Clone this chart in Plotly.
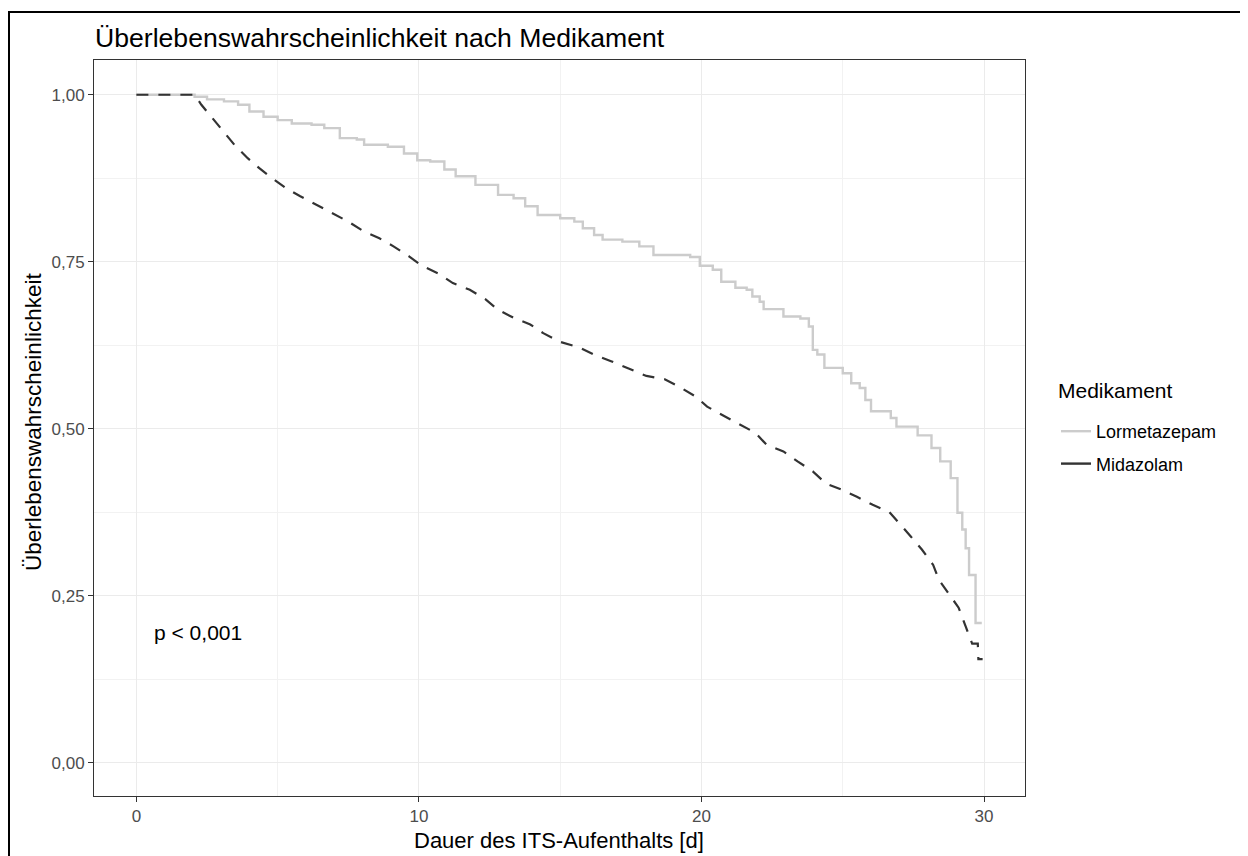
import plotly.graph_objects as go

# Kaplan-Meier curves (time in days, survival probability)
lor_t = [0, 2.06, 2.5, 3.1, 3.6, 4.0, 4.5, 5.0, 5.5, 6.2, 6.65, 7.2, 7.8, 8.06, 8.9, 9.47,
         9.94, 10.4, 10.9, 11.3, 12.0, 12.8, 13.35, 13.76, 14.2, 15.0, 15.5, 15.8, 16.2, 16.5,
         17.2, 17.8, 18.3, 19.6, 19.94, 20.4, 20.7, 21.2, 21.6, 21.8, 22.06, 22.2, 22.9, 23.5,
         23.8, 23.94, 24.1, 24.35, 25.0, 25.3, 25.6, 25.8, 26.0, 26.7, 26.9, 27.65, 28.14,
         28.45, 28.82, 29.06, 29.23, 29.35, 29.47, 29.7, 29.92]
lor_s = [1.0, 0.997, 0.993, 0.99, 0.985, 0.975, 0.967, 0.962, 0.957, 0.955, 0.95, 0.935, 0.933,
         0.925, 0.922, 0.912, 0.902, 0.900, 0.888, 0.878, 0.865, 0.850, 0.845, 0.833, 0.820,
         0.815, 0.810, 0.800, 0.790, 0.783, 0.780, 0.773, 0.760, 0.757, 0.744, 0.738, 0.720,
         0.711, 0.708, 0.698, 0.690, 0.679, 0.668, 0.665, 0.653, 0.618, 0.611, 0.591, 0.583,
         0.568, 0.561, 0.543, 0.526, 0.516, 0.503, 0.490, 0.471, 0.451, 0.426, 0.374, 0.349,
         0.321, 0.281, 0.209, 0.209]

mid_t = [0, 2.06, 2.3, 2.76, 3.1, 3.47, 3.94, 4.35, 4.8, 5.3, 5.8, 6.4, 6.94, 7.5, 8.06, 8.6,
         9.1, 9.65, 10.1, 10.7, 11.2, 11.8, 12.35, 12.8, 13.35, 13.94, 14.4, 15.0, 15.65, 16.2,
         16.8, 17.4, 18.05, 18.7, 19.2, 19.8, 20.2, 20.8, 21.35, 21.9, 22.3, 22.9, 23.4, 23.94,
         24.4, 24.94, 25.5, 26.06, 26.65, 27.06, 27.4, 27.8, 28.2, 28.4, 28.8, 29.1, 29.35,
         29.58, 29.78, 29.8, 29.95]
mid_s = [1.0, 1.0, 0.985, 0.962, 0.945, 0.925, 0.905, 0.890, 0.875, 0.860, 0.848, 0.835, 0.823,
         0.810, 0.795, 0.785, 0.773, 0.758, 0.744, 0.732, 0.718, 0.708, 0.694, 0.678, 0.666,
         0.656, 0.643, 0.630, 0.622, 0.611, 0.601, 0.591, 0.579, 0.574, 0.563, 0.548, 0.533,
         0.519, 0.507, 0.494, 0.476, 0.466, 0.451, 0.436, 0.418, 0.409, 0.398, 0.386, 0.375,
         0.356, 0.339, 0.319, 0.296, 0.274, 0.251, 0.232, 0.204, 0.178, 0.178, 0.155, 0.155]

groups = ["Lormetazepam", "Midazolam"]
colors = ["#cccccc", "#333333"]
x_ticks = [0, 10, 20, 30]
y_ticks = [0, 0.25, 0.5, 0.75, 1.0]

FONT = "Liberation Sans, Arial, sans-serif"

# figure geometry (page body has an 8px margin)
W, H = 1240, 848
PL, PR, PT, PB = 86, 1017, 52, 788   # plot area edges in figure pixels
pw, ph = PR - PL, PB - PT

fig = go.Figure()
fig.add_trace(go.Scatter(x=lor_t, y=lor_s, mode="lines", line_shape="hv",
                         line=dict(color=colors[0], width=2.4), showlegend=False,
                         hoverinfo="skip"))
fig.add_trace(go.Scatter(x=mid_t, y=mid_s, mode="lines", line_shape="linear",
                         line=dict(color=colors[1], width=2.2, dash="12px,10px"),
                         showlegend=False, hoverinfo="skip"))
# legend keys (solid, as in reference)
for g, c in zip(groups, colors):
    fig.add_trace(go.Scatter(x=[None], y=[None], mode="lines", name=g, legendgroup=g,
                             line=dict(color=c, width=2.4)))

fig.add_annotation(x=0.56, y=0.195, xref="x", yref="y", text="p < 0,001",
                   showarrow=False, xanchor="left", yanchor="middle",
                   font=dict(family=FONT, size=21, color="black"))

# legend title
fig.add_annotation(x=(1048 - PL) / pw, y=(PB - 382) / ph, xref="paper", yref="paper",
                   text="Medikament", showarrow=False, xanchor="left", yanchor="middle",
                   font=dict(family=FONT, size=21, color="black"))

# axis titles
fig.add_annotation(x=0.499, y=(PB - 832) / ph, xref="paper", yref="paper",
                   text="Dauer des ITS-Aufenthalts [d]", showarrow=False,
                   xanchor="center", yanchor="middle",
                   font=dict(family=FONT, size=22, color="black"))
fig.add_annotation(x=(25 - PL) / pw, y=(PB - 414) / ph, xref="paper", yref="paper",
                   text="Überlebenswahrscheinlichkeit", showarrow=False, textangle=-90,
                   xanchor="center", yanchor="middle",
                   font=dict(family=FONT, size=22.5, color="black"))

# outer frame of the screenshot
fig.add_shape(type="rect", xref="paper", yref="paper",
              x0=(1 - PL) / pw, x1=(W + 20 - PL) / pw,
              y0=(PB - H - 20) / ph, y1=(PB - 4) / ph,
              line=dict(color="black", width=2), fillcolor="rgba(0,0,0,0)")

axis_common = dict(showline=True, linecolor="#333333", linewidth=1, mirror=True,
                   ticks="outside", ticklen=5, tickcolor="#333333", tickwidth=1,
                   showgrid=True, gridcolor="#ebebeb", gridwidth=1.2,
                   zeroline=False, automargin=False,
                   tickfont=dict(family=FONT, size=17, color="#4d4d4d"))

fig.update_xaxes(range=[-1.5, 31.45], tickvals=x_ticks,
                 minor=dict(tickvals=[5, 15, 25], showgrid=True, gridcolor="#f2f2f2",
                            gridwidth=1, ticks=""),
                 **axis_common)
fig.update_yaxes(range=[-0.05, 1.052], tickvals=y_ticks, tickformat=".2f",
                 minor=dict(tickvals=[0.125, 0.375, 0.625, 0.875], showgrid=True,
                            gridcolor="#f2f2f2", gridwidth=1, ticks=""),
                 **axis_common)

fig.update_layout(
    width=W, height=H,
    margin=dict(l=PL, r=W - PR, t=PT, b=H - PB),
    paper_bgcolor="white", plot_bgcolor="white",
    separators=",.",
    title=dict(text="Überlebenswahrscheinlichkeit nach Medikament", x=87 / W,
               xanchor="left", y=1 - 30 / H, yanchor="middle",
               font=dict(family=FONT, size=26.6, color="black")),
    legend=dict(x=(1048 - PL) / pw, xanchor="left", y=(PB - 405) / ph, yanchor="top",
                font=dict(family=FONT, size=18, color="black"),
                traceorder="grouped", tracegroupgap=6,
                bgcolor="rgba(0,0,0,0)"),
    font=dict(family=FONT),
)

fig.write_html("out.html")
